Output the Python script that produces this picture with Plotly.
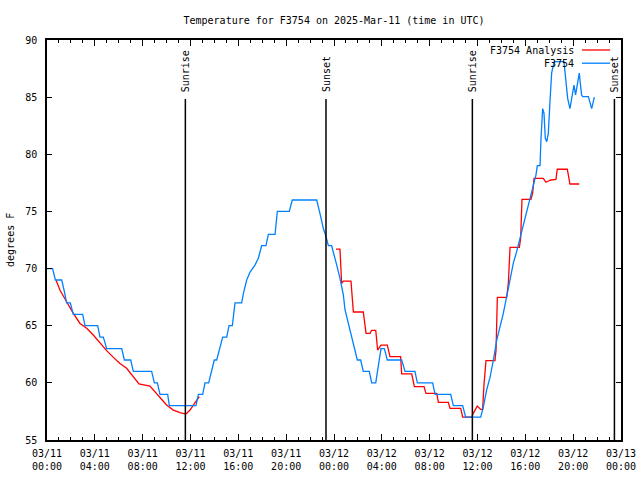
import plotly.graph_objects as go

# Hours since 2025-03-11 00:00 UTC
obs_hours = [0, 0.47, 0.7, 1.23, 1.45, 1.64, 1.95, 2.2, 2.98, 3.18, 4.24, 4.43, 4.71, 4.99, 6.25,
             6.47, 7.0, 7.22, 8.75, 8.98, 9.23, 9.45, 10.09, 10.23, 12.46, 12.66, 13.02, 13.21, 13.52,
             13.75, 13.99, 14.19, 14.45, 14.69, 15.03, 15.22, 15.5, 15.62, 15.72, 16.28, 16.42, 16.7,
             16.98, 17.39, 17.67, 17.95, 18.31, 18.51, 19.07, 19.26, 20.26, 20.51, 22.55, 22.83, 23.11,
             23.33, 23.53, 23.8, 23.94, 24.23, 24.5, 24.78, 24.92, 25.2, 25.48, 25.76, 25.95, 26.23,
             26.45, 26.95, 27.15, 27.49, 27.71, 27.93, 28.21, 28.46, 29.66, 29.94, 30.77, 30.97, 32.25,
             32.45, 33.76, 33.98, 34.76, 35.01, 36.27, 36.49, 36.77, 37.05, 37.33, 37.61, 37.88, 38.16,
             38.44, 38.72, 39.0, 39.28, 39.56, 39.83, 40.11, 40.39, 40.67, 40.89, 41.0, 41.23, 41.31,
             41.45, 41.56, 41.67, 41.79, 41.92, 42.06, 42.2, 42.34, 42.48, 43.23, 43.4, 43.54, 43.73,
             43.93, 44.07, 44.2, 44.34, 44.51, 44.7, 44.79, 45.27, 45.55, 45.77]
obs_temp = [70, 70, 69, 69, 68, 67, 67, 66, 66, 65, 65, 64, 64, 63, 63,
            62, 62, 61, 61, 60, 60, 59, 59, 58, 58, 59, 59, 60, 60,
            61, 62, 62, 63, 64, 64, 65, 65, 66, 67, 67, 67.8, 69,
            69.7, 70.3, 70.9, 72, 72, 73, 73, 75, 75, 76, 76, 74.8, 73.5,
            72.8, 72, 72, 71.5, 70.3, 69.15, 67.7, 66.4, 65.2, 63.75, 62.7, 62, 62,
            61, 61, 60, 60, 61.4, 63, 63, 62, 62, 61, 61, 60, 60,
            59, 59, 58, 58, 57, 57, 57.9, 59.4, 60.5, 62, 63.75, 64.9, 66.08,
            67.54, 69.0, 70.5, 71.5, 72.65, 73.96, 74.98, 76.0, 77.16, 78.2, 79, 79, 81.4,
            84, 83.6, 81.4, 81.1, 81.8, 84.6, 87.1, 87.8, 88.1, 88.1, 86.5, 84.9, 84,
            85.3, 86.06, 85.2, 86, 87.1, 85.2, 85.05, 85.05, 84, 85]

ana_hours = [0.75, 1.09, 1.64, 2.2, 2.76, 3.32, 3.87, 4.43, 4.99, 5.55, 6.1, 6.66, 7.22, 7.69,
             8.61, 9.03, 9.45, 10.0, 10.56, 11.12, 11.62, 11.96, 12.38, 12.74, None,
             24.17, 24.5, 24.64, 24.78, 25.42, 25.62, 26.45, 26.68, 27.01, 27.15, 27.49, 27.65,
             27.93, 28.46, 28.68, 29.57, 29.66, 30.5, 30.72, 31.53, 31.69, 32.59, 32.73, 33.56,
             33.7, 34.6, 34.76, 35.51, 35.65, 35.98, 36.27, 36.43, 36.54, 36.71, 37.46, 37.55,
             37.66, 38.44, 38.58, 38.72, 39.5, 39.61, 39.72, 40.47, 40.61, 40.73, 41.5, 41.73,
             42.12, 42.56, 42.67, 43.51, 43.73, 44.51]
ana_temp = [69.0, 68.1, 67.1, 66.08, 65.2, 64.77, 64.19, 63.46, 62.82, 62.23, 61.7, 61.27, 60.48, 59.9,
            59.72, 59.23, 58.65, 58.06, 57.62, 57.39, 57.27, 57.62, 58.27, 58.79, None,
            71.7, 71.7, 68.7, 68.9, 68.9, 66.2, 66.2, 64.33, 64.33, 64.6, 64.6, 62.87,
            63.3, 63.3, 62.3, 62.3, 60.78, 60.78, 59.67, 59.67, 59.08, 59.08, 58.3, 58.3,
            57.77, 57.77, 57.0, 57.0, 57.33, 57.97, 57.68, 57.68, 59.8, 61.94, 61.94, 62.87,
            67.48, 67.48, 68.7, 71.86, 71.86, 72.65, 76.06, 76.06, 76.6, 77.9, 77.9, 77.55,
            77.75, 77.8, 78.69, 78.69, 77.4, 77.4]

sun_hours = [11.57, 23.33, 35.57, 47.45]
sun_labels = ["Sunrise", "Sunset", "Sunrise", "Sunset"]

tick_hours = list(range(0, 49, 4))
tick_labels = ["03/11<br>00:00", "03/11<br>04:00", "03/11<br>08:00", "03/11<br>12:00",
               "03/11<br>16:00", "03/11<br>20:00", "03/12<br>00:00", "03/12<br>04:00",
               "03/12<br>08:00", "03/12<br>12:00", "03/12<br>16:00", "03/12<br>20:00",
               "03/13<br>00:00"]

series_names = ["F3754 Analysis", "F3754"]
series_colors = ["#ff0000", "#0080ff"]

FONT = "DejaVu Sans Mono"

fig = go.Figure()
fig.add_trace(go.Scatter(x=ana_hours, y=ana_temp, mode="lines", name=series_names[0],
                         line=dict(color=series_colors[0], width=1.3), connectgaps=False))
fig.add_trace(go.Scatter(x=obs_hours, y=obs_temp, mode="lines", name=series_names[1],
                         line=dict(color=series_colors[1], width=1.3)))

shapes = []
annotations = []
for h, lab in zip(sun_hours, sun_labels):
    shapes.append(dict(type="line", xref="x", yref="paper", x0=h, x1=h, y0=0, y1=0.8525,
                       line=dict(color="black", width=1.5)))
    annotations.append(dict(x=h, y=0.865, xref="x", yref="paper", text=lab, showarrow=False,
                            textangle=-90, xanchor="center", yanchor="bottom",
                            font=dict(family=FONT, size=10, color="black")))

# legend (gnuplot style: right-aligned text, sample line on the right)
leg_y = [0.975, 0.942]
for name, col, yy in zip(series_names, series_colors, leg_y):
    annotations.append(dict(x=0.921, y=yy, xref="paper", yref="paper", text=name, showarrow=False,
                            xanchor="right", yanchor="middle",
                            font=dict(family=FONT, size=10, color="black")))
    shapes.append(dict(type="line", xref="paper", yref="paper", x0=0.932, x1=0.981, y0=yy, y1=yy,
                       line=dict(color=col, width=1.3)))

annotations.append(dict(x=-0.0645, y=0.5, xref="paper", yref="paper", text="degrees F",
                        showarrow=False, textangle=-90, xanchor="center", yanchor="middle",
                        font=dict(family=FONT, size=10, color="black")))

fig.update_layout(
    width=640, height=480,
    margin=dict(l=47, r=19, t=40, b=40, autoexpand=False),
    paper_bgcolor="white", plot_bgcolor="white",
    showlegend=False,
    font=dict(family=FONT, size=10, color="black"),
    title=dict(text="Temperature for F3754 on 2025-Mar-11 (time in UTC)",
               x=0.5, xref="paper", xanchor="center", y=1 - 20 / 480, yref="container",
               yanchor="middle", font=dict(family=FONT, size=10, color="black")),
    shapes=shapes, annotations=annotations,
)
fig.update_xaxes(range=[0, 48], tickmode="array", tickvals=tick_hours, ticktext=tick_labels,
                 ticks="inside", ticklen=6, tickwidth=1, tickcolor="black",
                 minor=dict(tickvals=list(range(0, 49)), ticks="inside", ticklen=3,
                            tickcolor="black", tickwidth=1, showgrid=False),
                 showline=True, linecolor="black", linewidth=1.5, mirror="ticks",
                 showgrid=False, zeroline=False, ticklabelstandoff=3,
                 tickfont=dict(family=FONT, size=10, color="black"))
fig.update_yaxes(range=[55, 90], tickmode="linear", tick0=55, dtick=5,
                 ticks="inside", ticklen=5, tickwidth=1, tickcolor="black",
                 showline=True, linecolor="black", linewidth=1.5, mirror="ticks",
                 showgrid=False, zeroline=False, ticklabelstandoff=6,
                 tickfont=dict(family=FONT, size=10, color="black"))

# remove the browser's default 8px body margin so the 640x480 figure fills the window
fig.write_html("out.html", config={"displayModeBar": False},
               post_script="document.body.style.margin='0';")
